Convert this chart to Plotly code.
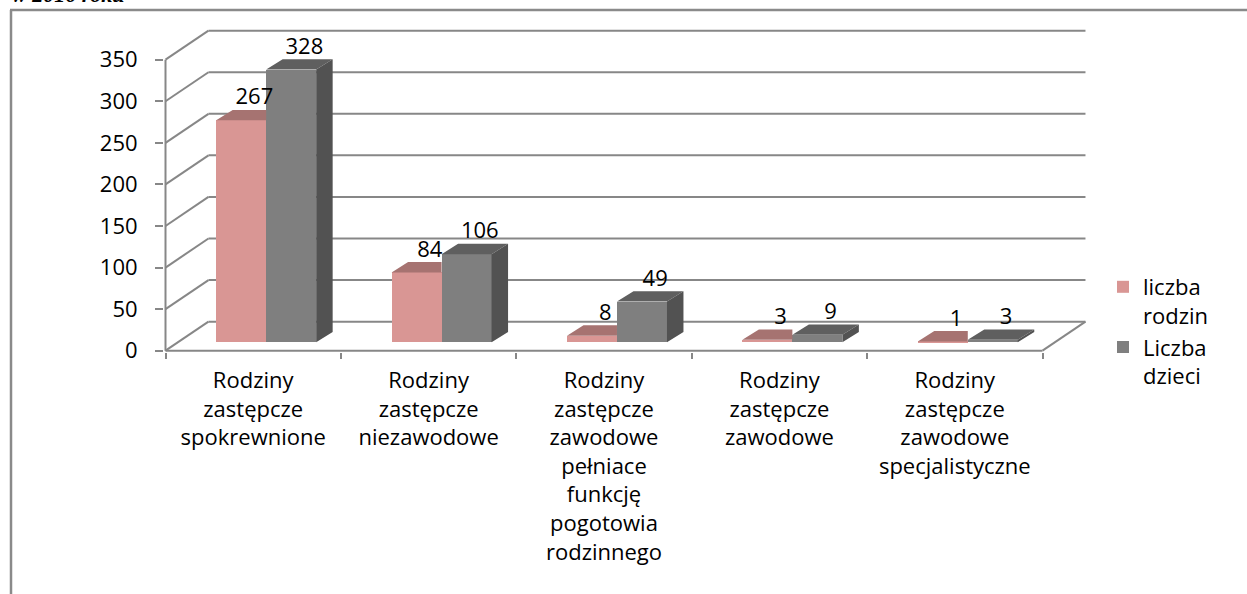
import plotly.graph_objects as go

# ---------------- data ----------------
categories = [
    "Rodziny<br>zastępcze<br>spokrewnione",
    "Rodziny<br>zastępcze<br>niezawodowe",
    "Rodziny<br>zastępcze<br>zawodowe<br>pełniace<br>funkcję<br>pogotowia<br>rodzinnego",
    "Rodziny<br>zastępcze<br>zawodowe",
    "Rodziny<br>zastępcze<br>zawodowe<br>specjalistyczne",
]
series_names = ["liczba<br>rodzin", "Liczba<br>dzieci"]
liczba_rodzin = [267, 84, 8, 3, 1]
liczba_dzieci = [328, 106, 49, 9, 3]
y_ticks = [0, 50, 100, 150, 200, 250, 300, 350]
title_text = "w 2016 roku"

# ---------------- geometry / style ----------------
W_FIG, H_FIG = 1247, 594
ML, MR, MT, MB = 164, 157, 20, 242
PW = W_FIG - ML - MR
PH = H_FIG - MT - MB
X0, X1 = -0.50855, 4.7708
Y0, Y1 = -1.563, 397.7

DX, DY = 0.245, 34.9          # depth of floor / back wall (data units)
BDX, BDY = 0.094, 12.5        # depth of each bar
BASE = 10.1                   # bars stand in the middle of the floor
SX = 0.074                    # shift of bar group due to depth
BW = 0.285                    # bar width

PINK, PINK_TOP = "#D99694", "#A67371"
GRAY, GRAY_TOP, GRAY_SIDE = "#7F7F7F", "#5F5F5F", "#525252"
LINE = "#878787"
FONT = "Open Sans"


def px2paper_x(px):
    return (px - ML) / PW


def px2paper_y(py):
    return (H_FIG - MB - py) / PH


n = len(categories)
xs = list(range(n))

fig = go.Figure()

# front faces as bars
fig.add_trace(go.Bar(
    x=[i + SX for i in xs], y=liczba_rodzin, base=BASE, width=BW, offset=-BW,
    marker=dict(color=PINK, line=dict(width=0)), name=series_names[0],
))
fig.add_trace(go.Bar(
    x=[i + SX for i in xs], y=liczba_dzieci, base=BASE, width=BW, offset=0,
    marker=dict(color=GRAY, line=dict(width=0)), name=series_names[1],
))


def poly_trace(polys, color):
    px, py = [], []
    for p in polys:
        for (a, b) in p:
            px.append(a)
            py.append(b)
        px.append(p[0][0]); py.append(p[0][1])
        px.append(None); py.append(None)
    return go.Scatter(x=px, y=py, mode="lines", fill="toself", fillcolor=color,
                      line=dict(width=0, color=color), showlegend=False, hoverinfo="skip")


# pink top faces (part in front of grey bar is hidden)
pink_tops = []
for i, v in zip(xs, liczba_rodzin):
    xa, xb = i + SX - BW, i + SX
    t = BASE + v
    pink_tops.append([(xa, t), (xb, t), (xb, t + BDY), (xa + BDX, t + BDY)])
fig.add_trace(poly_trace(pink_tops, PINK_TOP))

# grey top and side faces
gray_tops, gray_sides = [], []
for i, v in zip(xs, liczba_dzieci):
    xa, xb = i + SX, i + SX + BW
    t = BASE + v
    gray_tops.append([(xa, t), (xb, t), (xb + BDX, t + BDY), (xa + BDX, t + BDY)])
    gray_sides.append([(xb, BASE), (xb, t), (xb + BDX, t + BDY), (xb + BDX, BASE + BDY)])
fig.add_trace(poly_trace(gray_tops, GRAY_TOP))
fig.add_trace(poly_trace(gray_sides, GRAY_SIDE))

# data labels
LBL_DX = BDX * 0.8
for vals, off in ((liczba_rodzin, -BW / 2), (liczba_dzieci, BW / 2)):
    fig.add_trace(go.Scatter(
        x=[i + SX + off + LBL_DX for i in xs],
        y=[BASE + v + BDY for v in vals],
        mode="text", text=[str(v) for v in vals], textposition="top center",
        textfont=dict(family=FONT, size=22, color="#000000"),
        cliponaxis=False, showlegend=False, hoverinfo="skip",
    ))

# walls / gridlines as shapes below traces
shapes = []
for v in y_ticks:
    shapes.append(dict(type="line", xref="x", yref="y", layer="below",
                       x0=-0.5, y0=v, x1=-0.5 + DX, y1=v + DY,
                       line=dict(color=LINE, width=2)))
    shapes.append(dict(type="line", xref="x", yref="y", layer="below",
                       x0=-0.5 + DX, y0=v + DY, x1=n - 0.5 + DX, y1=v + DY,
                       line=dict(color=LINE, width=2)))
# floor front and right edge, vertical axis line
shapes.append(dict(type="line", xref="x", yref="y", layer="below",
                   x0=-0.5, y0=0, x1=n - 0.5, y1=0, line=dict(color=LINE, width=2)))
shapes.append(dict(type="line", xref="x", yref="y", layer="below",
                   x0=n - 0.5, y0=0, x1=n - 0.5 + DX, y1=DY, line=dict(color=LINE, width=2)))
shapes.append(dict(type="line", xref="x", yref="y", layer="below",
                   x0=-0.5, y0=0, x1=-0.5, y1=y_ticks[-1], line=dict(color=LINE, width=2)))
# document frame
shapes.append(dict(type="line", xref="paper", yref="paper",
                   x0=px2paper_x(11), y0=px2paper_y(10), x1=px2paper_x(11), y1=px2paper_y(600),
                   line=dict(color="#8A8A8A", width=2.5)))
shapes.append(dict(type="line", xref="paper", yref="paper",
                   x0=px2paper_x(10), y0=px2paper_y(10), x1=px2paper_x(1250), y1=px2paper_y(10),
                   line=dict(color="#8A8A8A", width=2.5)))

fig.update_layout(
    width=W_FIG, height=H_FIG,
    margin=dict(l=ML, r=MR, t=MT, b=MB, autoexpand=False),
    paper_bgcolor="white", plot_bgcolor="rgba(0,0,0,0)",
    barmode="overlay", bargap=0,
    font=dict(family=FONT, size=22, color="#000000"),
    shapes=shapes,
    showlegend=True,
    legend=dict(
        x=px2paper_x(1103), y=px2paper_y(266), xanchor="left", yanchor="top",
        valign="top", font=dict(family=FONT, size=22, color="#000000"),
        bgcolor="rgba(0,0,0,0)", itemwidth=30, traceorder="normal",
    ),
    annotations=[dict(
        text="<b><i>" + title_text + "</i></b>", xref="paper", yref="paper",
        x=px2paper_x(10), y=px2paper_y(9), xanchor="left", yanchor="bottom",
        showarrow=False, font=dict(family="Liberation Serif", size=22, color="#000000"),
    )],
    xaxis=dict(
        range=[X0, X1], tickmode="array", tickvals=xs, ticktext=categories,
        ticks="", showgrid=False, zeroline=False, showline=False,
        tickfont=dict(family=FONT, size=22, color="#000000"), ticklabelstandoff=13,
        minor=dict(tickmode="array", tickvals=[i - 0.5 for i in range(n + 1)],
                   ticks="outside", ticklen=6, tickwidth=2, tickcolor=LINE, showgrid=False),
        fixedrange=True,
    ),
    yaxis=dict(
        range=[Y0, Y1], tickmode="array", tickvals=y_ticks,
        ticks="outside", ticklen=8, tickwidth=2, tickcolor=LINE,
        showgrid=False, zeroline=False, showline=False,
        tickfont=dict(family=FONT, size=22, color="#000000"), ticklabelstandoff=13,
        fixedrange=True,
    ),
)

fig.write_html(
    "out.html",
    config={"displayModeBar": False},
    post_script="document.body.style.margin='0';document.body.style.padding='0';",
)
